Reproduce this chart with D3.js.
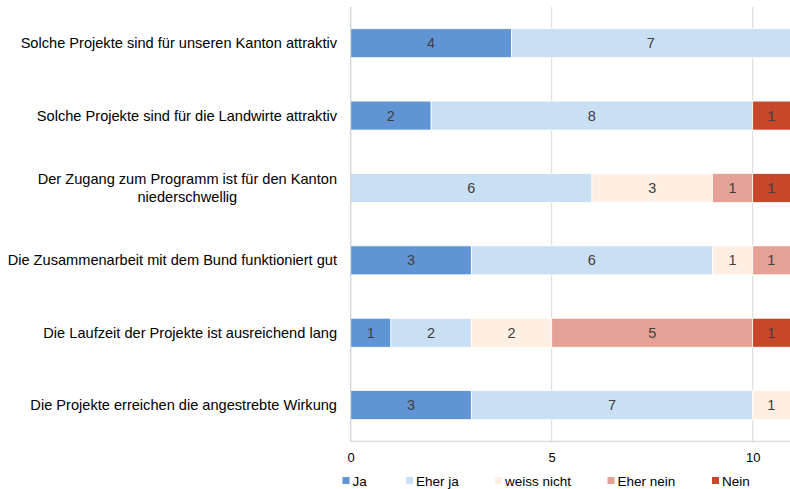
<!DOCTYPE html>
<html><head><meta charset="utf-8">
<script src="https://cdn.jsdelivr.net/npm/d3@7"></script>
<style>body{margin:0;background:#fff}svg{display:block;font-family:"Liberation Sans",Arial,sans-serif}</style>
</head><body><svg id="c" width="790" height="489"></svg>
<script>
const categories = [
  ["Solche Projekte sind für unseren Kanton attraktiv"],
  ["Solche Projekte sind für die Landwirte attraktiv"],
  ["Der Zugang zum Programm ist für den Kanton", "niederschwellig"],
  ["Die Zusammenarbeit mit dem Bund funktioniert gut"],
  ["Die Laufzeit der Projekte ist ausreichend lang"],
  ["Die Projekte erreichen die angestrebte Wirkung"]
];
const seriesNames = ["Ja", "Eher ja", "weiss nicht", "Eher nein", "Nein"];
const ja        = [4, 2, 0, 3, 1, 3];
const eherJa    = [7, 8, 6, 6, 2, 7];
const weissNicht= [0, 0, 3, 1, 2, 1];
const eherNein  = [0, 0, 1, 1, 5, 0];
const nein      = [0, 1, 1, 0, 1, 0];
const xTicks = [0, 5, 10];
const colors = ["#6094d4", "#c9dff3", "#fdefe3", "#e5a294", "#c8462a"];

const seriesVals = [ja, eherJa, weissNicht, eherNein, nein];
const rows = categories.map((c, i) => {
  const o = {idx: i};
  seriesNames.forEach((s, j) => o[s] = seriesVals[j][i]);
  return o;
});
const stack = d3.stack().keys(seriesNames)(rows);

const svg = d3.select("#c");
const pLeft = 350.7, pTop = 7, pBottom = 441.3;
const x = d3.scaleLinear().domain([0, 11]).range([pLeft, pLeft + 11 * 40.2]);
const y = d3.scaleBand().domain(d3.range(categories.length)).range([pTop, pBottom]).paddingInner(0.6).paddingOuter(0.3);

// grid
svg.append("g").selectAll("line").data(xTicks).join("line")
  .attr("x1", d => x(d)).attr("x2", d => x(d)).attr("y1", pTop).attr("y2", pBottom)
  .attr("stroke", "#d9d9d9").attr("stroke-width", 1);

// bars
const g = svg.append("g");
stack.forEach((s, si) => {
  const sg = g.append("g");
  sg.selectAll("rect").data(s.filter(d => d[1] - d[0] > 0)).join("rect")
    .attr("x", d => x(d[0])).attr("width", d => x(d[1]) - x(d[0]))
    .attr("y", d => y(d.data.idx)).attr("height", y.bandwidth())
    .attr("fill", colors[si]).attr("stroke", "#fff").attr("stroke-width", 0.75);
  sg.selectAll("text").data(s.filter(d => d[1] - d[0] > 0)).join("text")
    .attr("x", d => (x(d[0]) + Math.min(x(d[1]), 790)) / 2)
    .attr("y", d => y(d.data.idx) + y.bandwidth() / 2)
    .attr("dy", "0.35em").attr("text-anchor", "middle")
    .attr("font-size", 14.5).attr("fill", "#404040")
    .text(d => d[1] - d[0]);
});

// axes lines
svg.append("line").attr("x1", pLeft).attr("x2", pLeft).attr("y1", pTop).attr("y2", pBottom).attr("stroke", "#d0d0d0");
svg.append("line").attr("x1", pLeft).attr("x2", 790).attr("y1", pBottom).attr("y2", pBottom).attr("stroke", "#d0d0d0");

const xAxis = d3.axisBottom(x).tickValues(xTicks).tickSize(0).tickPadding(11);
const ax = svg.append("g").attr("transform", `translate(0,${pBottom})`).call(xAxis);
ax.select(".domain").remove();
ax.selectAll("text").attr("font-size", 13).attr("fill", "#000").attr("font-family", "Liberation Sans, Arial, sans-serif");

// category labels
const lab = svg.append("g");
categories.forEach((lines, i) => {
  const cy = y(i) + y.bandwidth() / 2;
  const t = lab.append("text").attr("font-size", 14.6).attr("fill", "#000").attr("text-anchor", "middle");
  const n = lines.length;
  const tspans = lines.map((l, k) => t.append("tspan").attr("x", 0).attr("y", cy + (k - (n - 1) / 2) * 18).attr("dy", "0.35em").text(l));
  let w = 0;
  tspans.forEach(ts => w = Math.max(w, ts.node().getComputedTextLength()));
  const cx = 337 - w / 2;
  tspans.forEach(ts => ts.attr("x", cx));
});

// legend
const legX = [342.5, 406, 495, 607.5, 712];
const lg = svg.append("g");
seriesNames.forEach((s, i) => {
  lg.append("rect").attr("x", legX[i]).attr("y", 477).attr("width", 7).attr("height", 7).attr("fill", colors[i]);
  lg.append("text").attr("x", legX[i] + 10).attr("y", 481).attr("dy", "0.35em").attr("font-size", 13.5).attr("fill", "#000").text(s);
});
</script></body></html>
